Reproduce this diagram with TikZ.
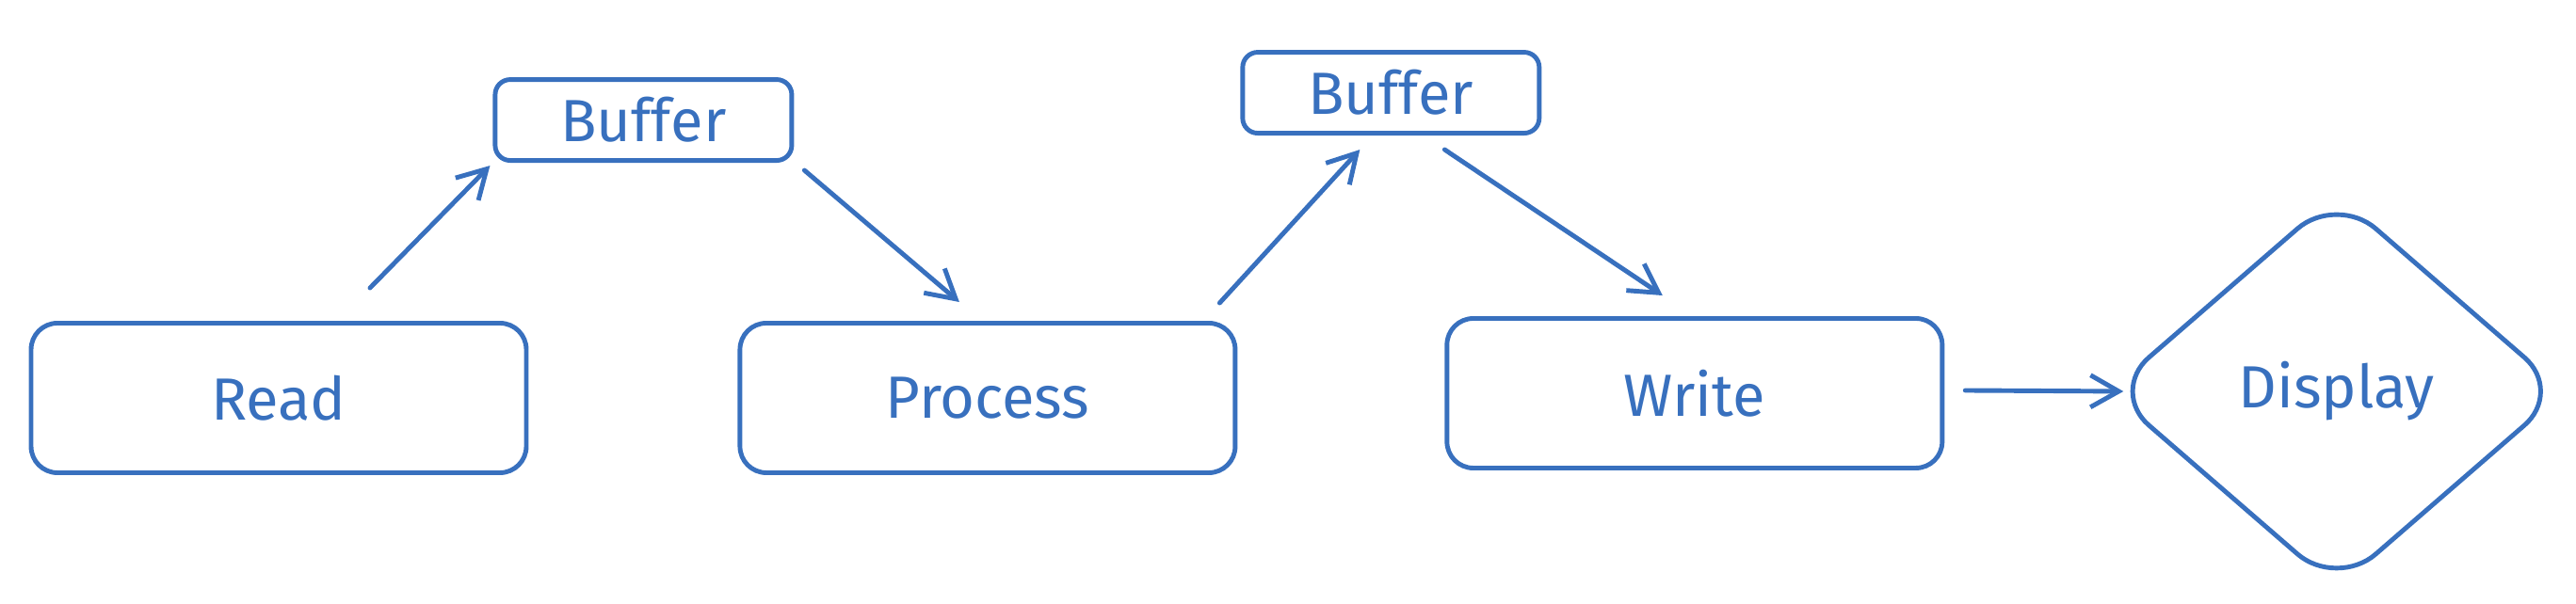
\documentclass[tikz,border=0pt]{standalone}
\usepackage{fontspec}
\setmainfont{Fira Sans}
\usepackage{tikz}
\usetikzlibrary{positioning,shapes.geometric,arrows.meta}

\definecolor{sketchblue}{RGB}{56,112,190}

\begin{document}
\begin{tikzpicture}[auto, line width=1.4pt, draw=sketchblue, text=sketchblue,
                font=\fontsize{18}{20}\selectfont,
                main node/.style={rectangle,draw=sketchblue,rounded corners=0.28cm,minimum width=5.26cm,minimum height=1.59cm},
                buffer node/.style={rectangle,draw=sketchblue,rounded corners=0.16cm,minimum width=3.15cm,minimum height=0.86cm},
                show node/.style={diamond,draw=sketchblue,rounded corners=0.55cm,minimum width=4.84cm,minimum height=4.2cm,inner sep=0pt},
                arrow/.style={draw=sketchblue,line cap=round,-{Straight Barb[length=0.3cm,width=0.34cm]}}]

            \useasboundingbox (0,0) rectangle (27.36,6.42);

            % Nodes
            \node[main node] (read) at (2.96,2.19) {Read};
            \node[buffer node] (buf1) [above right=1.68cm and -0.38cm of read] {Buffer};
            \node[main node] (process) [right=2.22cm of read] {Process};
            \node[buffer node] (buf2) [above right=1.97cm and 0.03cm of process] {Buffer};
            \node[main node] (write) [right=2.20cm of process, yshift=0.05cm] {Write};
            \node[show node] (display) [right=1.72cm of write, yshift=0.02cm] {Display};

            % Edges
            \draw[arrow] ([xshift=0.97cm,yshift=0.35cm]read.north) -- ([xshift=-0.03cm,yshift=-0.03cm]buf1.south west);
            \draw[arrow] ([xshift=0.11cm,yshift=-0.08cm]buf1.south east) -- ([xshift=-0.30cm,yshift=0.20cm]process.north);
            \draw[arrow] ([xshift=-0.19cm,yshift=0.19cm]process.north east) -- ([xshift=-0.33cm,yshift=-0.15cm]buf2.south);
            \draw[arrow] ([xshift=0.57cm,yshift=-0.15cm]buf2.south) -- ([xshift=-0.34cm,yshift=0.22cm]write.north);
            \draw[arrow] ([xshift=0.22cm,yshift=0.03cm]write.east) -- ([xshift=0.18cm]display.west);

        \end{tikzpicture}
\end{document}
